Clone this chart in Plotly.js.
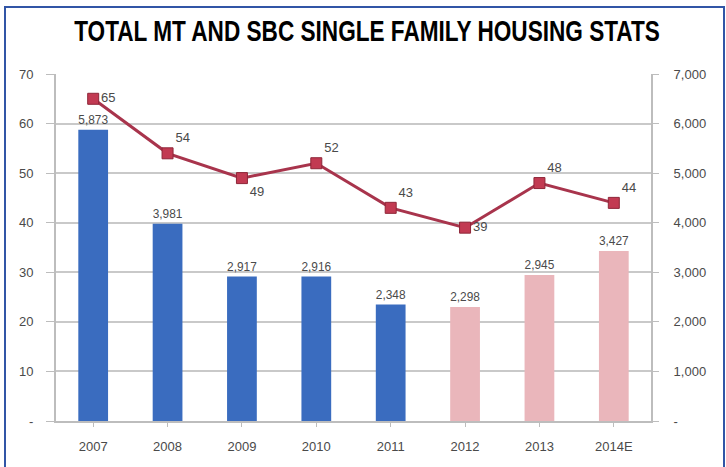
<!DOCTYPE html>
<html>
<head>
<meta charset="utf-8">
<script src="https://cdn.plot.ly/plotly-3.0.1.min.js"></script>
<style>
  html, body { margin: 0; padding: 0; background: #fff; }
  #wrap { position: relative; width: 726px; height: 467px; }
  #chart { width: 726px; height: 467px; }
  #frame { position: absolute; left: 4px; top: 6px; width: 717px; height: 470px;
           border: 2px solid #3155a6; pointer-events: none; }
</style>
</head>
<body>
<div id="wrap">
  <div id="chart"></div>
  <div id="frame"></div>
</div>
<script>
// ---- data ----
const years = ["2007", "2008", "2009", "2010", "2011", "2012", "2013", "2014E"];
const housingUnits = [5873, 3981, 2917, 2916, 2348, 2298, 2945, 3427];   // bars, right axis
const lineValues = [65, 54, 49, 52, 43, 39, 48, 44];                     // line, left axis
const leftTickVals = [0, 10, 20, 30, 40, 50, 60, 70];
const leftTickText = ["-", "10", "20", "30", "40", "50", "60", "70"];
const rightTickVals = [0, 1000, 2000, 3000, 4000, 5000, 6000, 7000];
const rightTickText = ["-", "1,000", "2,000", "3,000", "4,000", "5,000", "6,000", "7,000"];

// ---- style ----
const nActual = 5;
const barColors = years.map((y, i) => i < nActual ? "#3a6cbf" : "#eab6bb");
const lineLabelPos = ["middle right", "top right", "bottom right", "top right",
                      "top right", "middle right", "top right", "top right"];

const baseFont = "Liberation Sans, Arial, sans-serif";
const tickFont = { family: baseFont, size: 13, color: "#4a4a4a" };
const labelFont = { family: baseFont, size: 13, color: "#4a4a4a" };

const bars = {
  type: "bar",
  x: years,
  y: housingUnits,
  yaxis: "y2",
  marker: { color: barColors, line: { width: 0 } },
  texttemplate: "%{y:,}",
  textposition: "outside",
  cliponaxis: false,
  textfont: labelFont,
  hoverinfo: "x+y",
  showlegend: false
};

const line = {
  type: "scatter",
  mode: "lines+markers+text",
  x: years,
  y: lineValues,
  yaxis: "y",
  line: { color: "#a8344c", width: 3 },
  marker: { symbol: "square", size: 11, color: "#c23a52", line: { color: "#8e2638", width: 1 } },
  texttemplate: "%{y}",
  textposition: lineLabelPos,
  cliponaxis: false,
  textfont: labelFont,
  showlegend: false
};

const layout = {
  width: 726,
  height: 467,
  margin: { l: 56, r: 75, t: 74, b: 46 },
  paper_bgcolor: "#ffffff",
  plot_bgcolor: "#ffffff",
  title: {
    text: "TOTAL MT AND SBC SINGLE FAMILY HOUSING STATS",
    font: { family: baseFont, size: 29, color: "#000", weight: 700 },
    x: 0.505, xanchor: "center",
    y: 0.933, yanchor: "middle"
  },
  bargap: 0.6,
  xaxis: {
    type: "category",
    showline: true, linecolor: "#bdbdbd", linewidth: 2,
    ticks: "outside", tickcolor: "#bdbdbd", ticklen: 4,
    ticklabelstandoff: 8,
    tickfont: tickFont,
    showgrid: false,
    zeroline: false
  },
  yaxis: {
    range: [0, 70],
    tickvals: leftTickVals,
    ticktext: leftTickText,
    showline: true, linecolor: "#bdbdbd", linewidth: 2,
    ticks: "outside", tickcolor: "#bdbdbd", ticklen: 8,
    ticklabelstandoff: 10,
    tickfont: tickFont,
    showgrid: true, gridcolor: "#c9c9c9", gridwidth: 2,
    zeroline: false
  },
  yaxis2: {
    range: [0, 7000],
    overlaying: "y",
    side: "right",
    tickvals: rightTickVals,
    ticktext: rightTickText,
    showline: true, linecolor: "#bdbdbd", linewidth: 2,
    ticks: "outside", tickcolor: "#bdbdbd", ticklen: 6,
    ticklabelstandoff: 12,
    tickfont: tickFont,
    showgrid: false,
    zeroline: false
  }
};

Plotly.newPlot("chart", [bars, line], layout, { displayModeBar: false, staticPlot: true }).then(function (gd) {
  // condense the title horizontally to mimic the narrow headline face
  const t = gd.querySelector(".gtitle");
  if (t) {
    const bb = t.getBBox();
    const target = 586;
    const s = target / bb.width;
    const cx = 367;
    t.setAttribute("transform", "translate(" + cx + ",0) scale(" + s + ",1) translate(" + (-(bb.x + bb.width / 2)) + ",0)");
  }
});
</script>
</body>
</html>
